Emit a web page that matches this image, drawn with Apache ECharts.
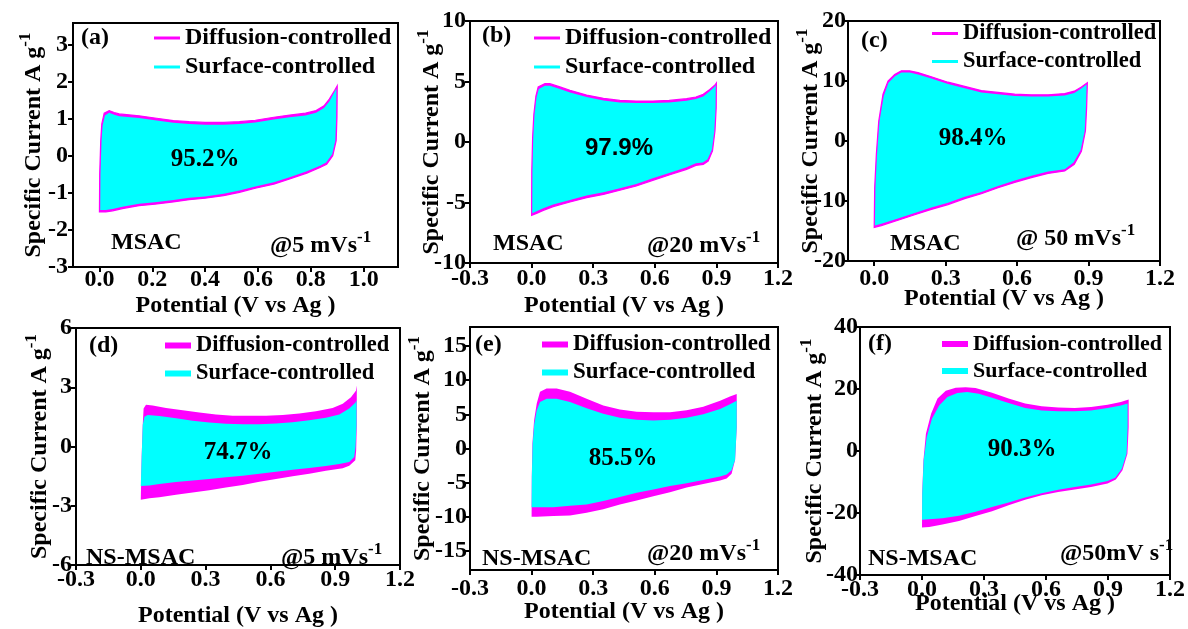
<!DOCTYPE html>
<html><head><meta charset="utf-8">
<script src="https://cdn.jsdelivr.net/npm/echarts@6/dist/echarts.min.js"></script>
<style>html,body{margin:0;padding:0;background:#fff}#c{width:1188px;height:629px}</style>
</head><body><div id="c"></div>
<script>
// ---------- DATA ----------
// Each loop = forward scan [potential, current] then reverse scan.
const aFwdTotal = [[0,-1.51],[0.001,-0.49],[0.005,0.42],[0.009,0.87],[0.018,1.16],[0.037,1.23],[0.056,1.18],[0.075,1.14],[0.15,1.09],[0.21,1.03],[0.28,0.96],[0.34,0.93],[0.40,0.91],[0.47,0.91],[0.53,0.93],[0.59,0.97],[0.66,1.05],[0.72,1.11],[0.78,1.16],[0.82,1.23],[0.85,1.36],[0.87,1.54],[0.89,1.77],[0.90,1.90]];
const aRevTotal = [[0.90,1.90],[0.899,1.05],[0.896,0.42],[0.883,0.01],[0.86,-0.22],[0.835,-0.31],[0.785,-0.46],[0.72,-0.62],[0.66,-0.76],[0.59,-0.87],[0.53,-0.98],[0.47,-1.07],[0.40,-1.14],[0.34,-1.18],[0.28,-1.24],[0.21,-1.30],[0.15,-1.34],[0.087,-1.42],[0.05,-1.48],[0.024,-1.51],[0,-1.51]];
const aFwdSurf = [[0.003,-1.46],[0.004,-0.49],[0.008,0.42],[0.012,0.83],[0.021,1.10],[0.037,1.17],[0.056,1.12],[0.075,1.08],[0.15,1.03],[0.21,0.97],[0.28,0.90],[0.34,0.87],[0.40,0.85],[0.47,0.85],[0.53,0.87],[0.59,0.91],[0.66,0.99],[0.72,1.05],[0.78,1.10],[0.82,1.17],[0.85,1.30],[0.87,1.48],[0.888,1.71],[0.897,1.83]];
const aRevSurf = [[0.897,1.83],[0.896,1.05],[0.893,0.42],[0.881,0.05],[0.858,-0.17],[0.835,-0.26],[0.785,-0.41],[0.72,-0.57],[0.66,-0.71],[0.59,-0.82],[0.53,-0.93],[0.47,-1.02],[0.40,-1.09],[0.34,-1.13],[0.28,-1.19],[0.21,-1.25],[0.15,-1.29],[0.087,-1.37],[0.05,-1.43],[0.024,-1.46],[0.003,-1.46]];

const bFwdTotal = [[0,-6.06],[0.001,-2.40],[0.005,0.36],[0.011,2.29],[0.021,3.80],[0.032,4.55],[0.065,4.82],[0.089,4.82],[0.138,4.55],[0.187,4.27],[0.268,3.88],[0.35,3.61],[0.43,3.44],[0.51,3.39],[0.59,3.39],[0.67,3.44],[0.755,3.58],[0.80,3.72],[0.836,3.94],[0.868,4.35],[0.893,4.71],[0.90,4.88]];
const bRevTotal = [[0.90,4.88],[0.899,2.84],[0.893,0.91],[0.881,-0.74],[0.86,-1.57],[0.836,-1.85],[0.80,-1.93],[0.755,-2.26],[0.67,-2.73],[0.59,-3.17],[0.51,-3.64],[0.43,-3.99],[0.35,-4.33],[0.268,-4.60],[0.187,-4.96],[0.105,-5.34],[0.057,-5.65],[0.024,-5.90],[0,-6.06]];
const bFwdSurf = [[0.003,-5.89],[0.004,-2.40],[0.008,0.36],[0.014,2.25],[0.024,3.68],[0.035,4.39],[0.065,4.65],[0.089,4.65],[0.138,4.38],[0.187,4.10],[0.268,3.71],[0.35,3.44],[0.43,3.27],[0.51,3.22],[0.59,3.22],[0.67,3.27],[0.755,3.41],[0.80,3.55],[0.836,3.77],[0.866,4.18],[0.89,4.54],[0.897,4.71]];
const bRevSurf = [[0.897,4.71],[0.896,2.84],[0.89,0.91],[0.878,-0.64],[0.857,-1.42],[0.834,-1.69],[0.80,-1.76],[0.755,-2.09],[0.67,-2.56],[0.59,-3.00],[0.51,-3.47],[0.43,-3.82],[0.35,-4.16],[0.268,-4.43],[0.187,-4.79],[0.105,-5.17],[0.057,-5.48],[0.024,-5.73],[0.003,-5.89]];

const cFwdTotal = [[0,-14.4],[0.002,-7.8],[0.009,-2.2],[0.019,3.3],[0.037,7.8],[0.058,10.0],[0.086,11.1],[0.114,11.7],[0.149,11.7],[0.184,11.4],[0.24,10.7],[0.31,9.8],[0.38,9.1],[0.45,8.4],[0.52,8.1],[0.59,7.8],[0.66,7.7],[0.73,7.7],[0.80,7.9],[0.84,8.3],[0.87,9.0],[0.895,9.7]];
const cRevTotal = [[0.895,9.7],[0.892,5.6],[0.887,1.7],[0.87,-1.7],[0.84,-3.9],[0.80,-5.0],[0.73,-5.4],[0.66,-6.1],[0.59,-6.9],[0.52,-7.8],[0.45,-8.8],[0.38,-9.6],[0.31,-10.6],[0.24,-11.4],[0.17,-12.3],[0.10,-13.2],[0.03,-14.1],[0,-14.4]];
const cFwdSurf = [[0.003,-14.1],[0.005,-7.8],[0.012,-2.2],[0.022,3.2],[0.04,7.5],[0.06,9.7],[0.087,10.8],[0.114,11.4],[0.149,11.4],[0.184,11.1],[0.24,10.4],[0.31,9.5],[0.38,8.8],[0.45,8.1],[0.52,7.8],[0.59,7.5],[0.66,7.4],[0.73,7.4],[0.80,7.6],[0.84,8.0],[0.868,8.7],[0.892,9.4]];
const cRevSurf = [[0.892,9.4],[0.889,5.6],[0.884,1.7],[0.867,-1.5],[0.837,-3.6],[0.80,-4.7],[0.73,-5.1],[0.66,-5.8],[0.59,-6.6],[0.52,-7.5],[0.45,-8.5],[0.38,-9.3],[0.31,-10.3],[0.24,-11.1],[0.17,-12.0],[0.10,-12.9],[0.03,-13.8],[0.003,-14.1]];

const dFwdTotal = [[0,-2.69],[0.004,-0.53],[0.009,1.10],[0.013,1.92],[0.024,2.11],[0.055,2.08],[0.117,1.95],[0.194,1.84],[0.271,1.72],[0.348,1.62],[0.425,1.56],[0.50,1.56],[0.58,1.56],[0.657,1.59],[0.734,1.67],[0.811,1.79],[0.888,1.95],[0.935,2.16],[0.973,2.49],[0.996,2.82],[1.0,3.09]];
const dRevTotal = [[1.0,3.09],[1.0,1.10],[0.997,-0.2],[0.993,-0.69],[0.965,-0.97],[0.935,-1.10],[0.857,-1.23],[0.78,-1.38],[0.703,-1.51],[0.626,-1.64],[0.549,-1.79],[0.472,-1.95],[0.394,-2.08],[0.317,-2.21],[0.24,-2.33],[0.163,-2.44],[0.086,-2.57],[0.04,-2.62],[0,-2.69]];
const dFwdSurf = [[0,-2.0],[0.004,-0.53],[0.009,1.10],[0.017,1.51],[0.032,1.59],[0.086,1.54],[0.163,1.43],[0.24,1.30],[0.317,1.22],[0.394,1.15],[0.472,1.13],[0.549,1.13],[0.626,1.17],[0.703,1.23],[0.78,1.33],[0.857,1.46],[0.919,1.62],[0.965,1.92],[0.993,2.21],[0.999,2.33]];
const dRevSurf = [[0.999,2.33],[0.999,1.10],[0.994,-0.04],[0.988,-0.53],[0.965,-0.78],[0.919,-0.89],[0.857,-0.99],[0.78,-1.09],[0.703,-1.18],[0.626,-1.28],[0.549,-1.38],[0.472,-1.48],[0.394,-1.56],[0.317,-1.64],[0.24,-1.72],[0.163,-1.80],[0.086,-1.90],[0.04,-1.97],[0,-2.0]];

const eFwdTotal = [[0,-10.0],[0.001,-4.2],[0.004,0.7],[0.012,4.1],[0.025,6.6],[0.041,8.3],[0.073,8.8],[0.122,8.8],[0.187,8.3],[0.268,7.3],[0.349,6.3],[0.43,5.7],[0.512,5.4],[0.593,5.3],[0.674,5.3],[0.755,5.6],[0.836,6.1],[0.918,7.0],[0.966,7.6],[0.999,8.0]];
const eRevTotal = [[0.999,8.0],[0.999,3.1],[0.991,-1.7],[0.974,-3.7],[0.95,-4.4],[0.918,-4.7],[0.836,-5.2],[0.755,-5.7],[0.674,-6.4],[0.593,-7.0],[0.512,-7.6],[0.43,-8.2],[0.349,-8.9],[0.268,-9.4],[0.187,-9.8],[0.106,-9.9],[0.025,-10.0],[0,-10.0]];
const eFwdSurf = [[0,-8.6],[0.001,-4.2],[0.005,0.7],[0.013,3.6],[0.025,5.6],[0.041,6.8],[0.073,7.3],[0.122,7.3],[0.187,6.8],[0.268,5.9],[0.349,5.1],[0.43,4.5],[0.512,4.2],[0.593,4.1],[0.674,4.2],[0.755,4.5],[0.836,5.0],[0.918,5.8],[0.966,6.5],[0.999,7.0]];
const eRevSurf = [[0.999,7.0],[0.999,3.1],[0.991,-1.7],[0.974,-3.2],[0.95,-3.8],[0.918,-4.1],[0.836,-4.6],[0.755,-5.1],[0.674,-5.5],[0.593,-6.0],[0.512,-6.5],[0.43,-7.1],[0.349,-7.7],[0.268,-8.2],[0.187,-8.4],[0.106,-8.6],[0,-8.6]];

const fFwdTotal = [[0,-24.7],[0.001,-13.8],[0.007,-3.0],[0.019,5.6],[0.044,12.0],[0.075,16.9],[0.115,19.4],[0.163,20.4],[0.211,20.6],[0.259,20.3],[0.339,18.8],[0.419,16.9],[0.499,15.3],[0.579,14.4],[0.659,14.0],[0.739,13.9],[0.818,14.2],[0.898,14.9],[0.962,15.8],[1.0,16.6]];
const fRevTotal = [[1.0,16.6],[1.0,7.7],[0.994,-0.9],[0.97,-6.2],[0.938,-9.2],[0.898,-10.5],[0.818,-11.6],[0.739,-12.4],[0.659,-13.2],[0.579,-14.3],[0.499,-15.7],[0.419,-17.5],[0.339,-19.4],[0.259,-21.0],[0.179,-22.6],[0.099,-23.7],[0.035,-24.5],[0,-24.7]];
const fFwdSurf = [[0,-22.2],[0.001,-13.8],[0.008,-3.0],[0.023,4.5],[0.048,10.4],[0.083,14.7],[0.123,17.4],[0.171,18.7],[0.219,19.0],[0.275,18.5],[0.339,17.2],[0.419,15.5],[0.499,13.9],[0.579,13.1],[0.659,12.8],[0.739,12.8],[0.818,13.1],[0.898,13.9],[0.962,14.7],[0.995,15.3]];
const fRevSurf = [[0.995,15.3],[0.995,7.7],[0.99,-0.9],[0.967,-5.7],[0.935,-8.6],[0.898,-9.7],[0.818,-10.8],[0.739,-11.6],[0.659,-12.5],[0.579,-13.6],[0.499,-15.0],[0.419,-16.6],[0.339,-18.1],[0.259,-19.6],[0.179,-20.9],[0.099,-21.7],[0.035,-22.0],[0,-22.2]];

// tick labels
const xTicksA = [0, 0.2, 0.4, 0.6, 0.8, 1.0];
const xTicksB = [-0.3, 0, 0.3, 0.6, 0.9, 1.2];
const xTicksC = [0, 0.3, 0.6, 0.9, 1.2];
const yTicksA = [-3, -2, -1, 0, 1, 2, 3];
const yTicksB = [-10, -5, 0, 5, 10];
const yTicksC = [-20, -10, 0, 10, 20];
const yTicksD = [-6, -3, 0, 3, 6];
const yTicksE = [-15, -10, -5, 0, 5, 10, 15];
const yTicksF = [-40, -20, 0, 20, 40];

// texts
const panelLetters = ['(a)', '(b)', '(c)', '(d)', '(e)', '(f)'];
const percentages = ['95.2%', '97.9%', '98.4%', '74.7%', '85.5%', '90.3%'];
const samples = ['MSAC', 'MSAC', 'MSAC', 'NS-MSAC', 'NS-MSAC', 'NS-MSAC'];
const rates = ['@5 mVs', '@20 mVs', '@ 50 mVs', '@5 mVs', '@20 mVs', '@50mV s'];
const seriesNames = ['Diffusion-controlled', 'Surface-controlled'];
const xName = 'Potential (V vs Ag )';
const yName = 'Specific Current A g';

// ---------- LAYOUT ----------
const FONT = 'Liberation Serif';
const MAG = '#ff00ff', CYA = '#00ffff';
const panels = [
  {total: aFwdTotal.concat(aRevTotal), surf: aFwdSurf.concat(aRevSurf), thin: true,
   grid: {left: 73, top: 23, width: 325, height: 244}, x: [-0.1, 1.13], xt: xTicksA, y: [-3, 3.6], yt: yTicksA,
   xlm: 1, xng: 27, ylm: 5, yng: 22, leg: [154, 26], legFs: 24, letter: [81, 38], pct: [205, 160], sample: [111, 243], rate: [270, 246], pctSans: false},
  {total: bFwdTotal.concat(bRevTotal), surf: bFwdSurf.concat(bRevSurf), thin: true,
   grid: {left: 470, top: 21, width: 308, height: 242}, x: [-0.3, 1.2], xt: xTicksB, y: [-10, 10], yt: yTicksB,
   xlm: 4, xng: 31, ylm: 4, yng: 21, leg: [534, 26], legFs: 24, letter: [482, 36], pct: [619, 148], sample: [493, 244], rate: [647, 246], pctSans: true},
  {total: cFwdTotal.concat(cRevTotal), surf: cFwdSurf.concat(cRevSurf), thin: true,
   grid: {left: 848, top: 21, width: 312, height: 240}, x: [-0.11, 1.2], xt: xTicksC, y: [-20, 20], yt: yTicksC,
   xlm: 6, xng: 26, ylm: 2, yng: 20, leg: [932, 22], legFs: 22.5, letter: [861, 41], pct: [973, 139], sample: [890, 244], rate: [1016, 239], pctSans: false},
  {total: dFwdTotal.concat(dRevTotal), surf: dFwdSurf.concat(dRevSurf), thin: false,
   grid: {left: 76, top: 328, width: 324, height: 245}, x: [-0.3, 1.2], xt: xTicksB, y: [-6, 6], yt: yTicksD,
   xlm: 3, xng: 39, ylm: 4, yng: 19, leg: [165, 334], legFs: 22.5, letter: [89, 346], pct: [238, 453], sample: [86, 558], rate: [281, 558], pctSans: false},
  {total: eFwdTotal.concat(eRevTotal), surf: eFwdSurf.concat(eRevSurf), thin: false,
   grid: {left: 470, top: 327, width: 308, height: 243}, x: [-0.3, 1.2], xt: xTicksB, y: [-17.8, 17.8], yt: yTicksE,
   xlm: 7, xng: 30, ylm: 3, yng: 30, leg: [542, 333], legFs: 23, letter: [475, 345], pct: [623, 459], sample: [482, 559], rate: [647, 554], pctSans: false},
  {total: fFwdTotal.concat(fRevTotal), surf: fFwdSurf.concat(fRevSurf), thin: false,
   grid: {left: 860, top: 327, width: 313, height: 248}, x: [-0.3, 1.2], xt: xTicksB, y: [-40, 40], yt: yTicksF,
   xlm: 3, xng: 17, ylm: 2, yng: 28, leg: [942, 333], legFs: 22, letter: [868, 344], pct: [1022, 450], sample: [868, 559], rate: [1060, 554], pctSans: false}
];

const txt = {fontFamily: FONT, fontWeight: 'bold', fontSize: 24, color: '#000'};
const supStyle = {fontFamily: FONT, fontWeight: 'bold', fontSize: 17, lineHeight: 17, verticalAlign: 'top', color: '#000'};

function loopSeries(name, color, pts, idx, stroke) {
  return {
    type: 'custom', name: name, coordinateSystem: 'cartesian2d', xAxisIndex: idx, yAxisIndex: idx,
    itemStyle: {color: color}, silent: true, animation: false, z: 2,
    data: [pts[0]],
    renderItem: function (params, api) {
      return {
        type: 'polygon',
        shape: {points: pts.map(function (p) { return api.coord(p); })},
        style: {fill: color, stroke: stroke ? color : null, lineWidth: stroke ? 1.2 : 0}
      };
    }
  };
}

const grids = [], xAxes = [], yAxes = [], series = [], legends = [], graphics = [];
panels.forEach(function (p, i) {
  grids.push(Object.assign({show: true, borderColor: '#000', borderWidth: 2, backgroundColor: 'transparent'}, p.grid));
  xAxes.push({
    gridIndex: i, type: 'value', min: p.x[0], max: p.x[1],
    name: xName, nameLocation: 'middle', nameGap: p.xng, nameMoveOverlap: false,
    nameTextStyle: txt,
    axisLine: {show: true, onZero: false, lineStyle: {color: '#000', width: 2}},
    axisTick: {show: true, inside: false, length: 5, lineStyle: {color: '#000', width: 2}, customValues: p.xt},
    axisLabel: Object.assign({margin: p.xlm, customValues: p.xt, formatter: function (v) { return (Math.abs(v) < 1e-9 ? 0 : v).toFixed(1); }}, txt),
    splitLine: {show: false}
  });
  yAxes.push({
    gridIndex: i, type: 'value', min: p.y[0], max: p.y[1],
    name: yName + '{sup|-1}', nameLocation: 'middle', nameRotate: 90, nameGap: p.yng, nameMoveOverlap: false,
    nameTextStyle: Object.assign({lineHeight: 34, rich: {sup: supStyle}}, txt),
    axisLine: {show: true, onZero: false, lineStyle: {color: '#000', width: 2}},
    axisTick: {show: true, inside: false, length: 5, lineStyle: {color: '#000', width: 2}, customValues: p.yt},
    axisLabel: Object.assign({margin: p.ylm, customValues: p.yt, formatter: function (v) { return String(Math.round(v)); }}, txt),
    splitLine: {show: false}
  });
  series.push(loopSeries(seriesNames[0], MAG, p.total, i, p.thin));
  series.push(loopSeries(seriesNames[1], CYA, p.surf, i, false));
  legends.push({
    left: p.leg[0], top: p.leg[1], orient: 'vertical', padding: 0, itemGap: 5,
    icon: 'rect', itemWidth: 26, itemHeight: p.thin ? 3 : 6, selectedMode: false,
    data: seriesNames, textStyle: Object.assign({}, txt, {fontSize: p.legFs})
  });
  graphics.push({type: 'text', x: p.letter[0], y: p.letter[1], z: 100,
    style: {text: panelLetters[i], fontFamily: FONT, fontWeight: 'bold', fontSize: 24, fill: '#000', align: 'left', verticalAlign: 'middle'}});
  graphics.push({type: 'text', x: p.pct[0], y: p.pct[1], z: 100,
    style: {text: percentages[i], fontFamily: p.pctSans ? 'Liberation Sans' : FONT, fontWeight: 'bold', fontSize: p.pctSans ? 24 : 25, fill: '#000', align: 'center', verticalAlign: 'middle'}});
  graphics.push({type: 'text', x: p.sample[0], y: p.sample[1], z: 100,
    style: {text: samples[i], fontFamily: FONT, fontWeight: 'bold', fontSize: 24, fill: '#000', align: 'left', verticalAlign: 'middle'}});
  graphics.push({type: 'text', x: p.rate[0], y: p.rate[1], z: 100,
    style: {text: rates[i] + '{sup|-1}', fontFamily: FONT, fontWeight: 'bold', fontSize: 24, lineHeight: 34, fill: '#000', align: 'left', verticalAlign: 'middle',
      rich: {sup: {fontFamily: FONT, fontWeight: 'bold', fontSize: 17, lineHeight: 17, verticalAlign: 'top', fill: '#000'}}}});
});

const chart = echarts.init(document.getElementById('c'), null, {renderer: 'canvas'});
chart.setOption({
  backgroundColor: '#fff',
  animation: false,
  textStyle: {fontFamily: FONT},
  grid: grids, xAxis: xAxes, yAxis: yAxes, series: series, legend: legends, graphic: graphics
});
</script></body></html>
